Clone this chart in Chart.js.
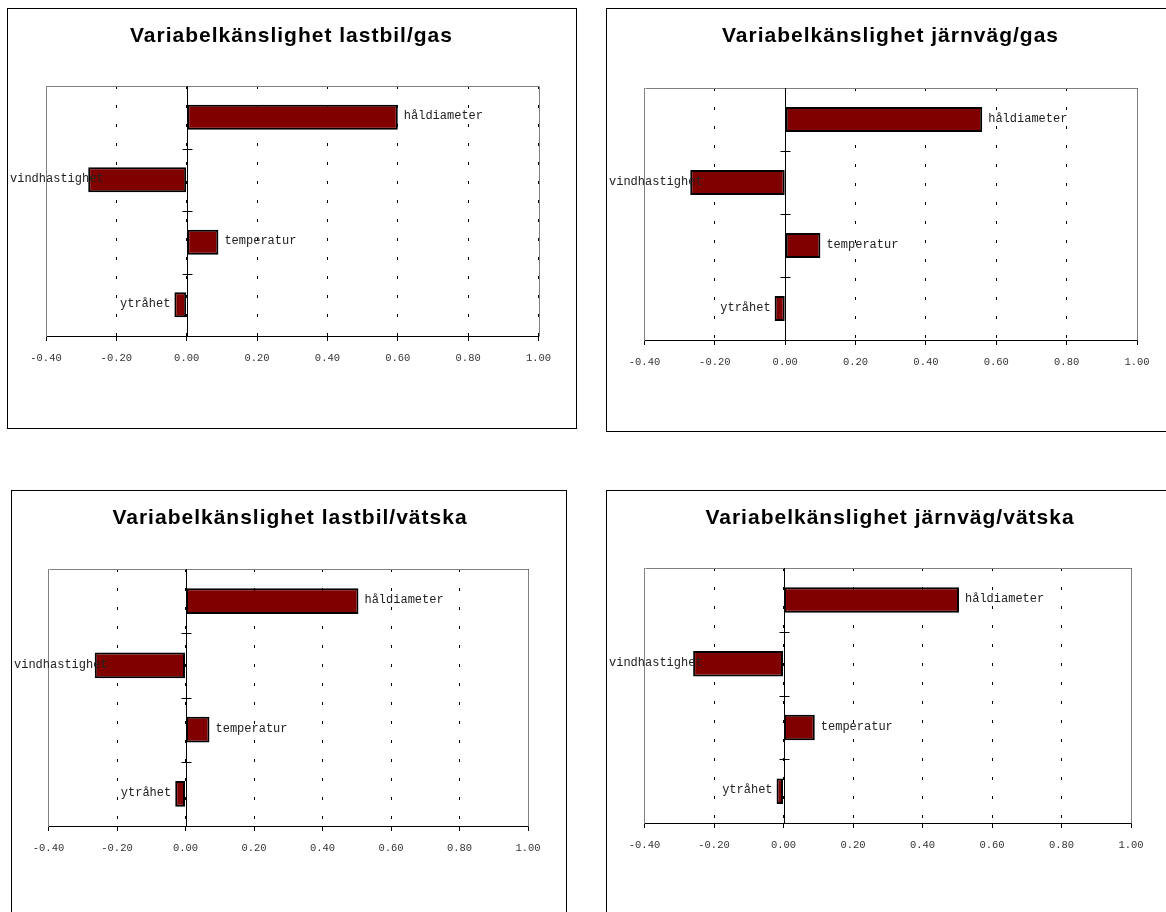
<!DOCTYPE html>
<html>
<head>
<meta charset="utf-8">
<script src="https://cdn.jsdelivr.net/npm/chart.js@4.4.0/dist/chart.umd.min.js"></script>
<style>
  html, body { margin: 0; padding: 0; background: #fff; }
  body { width: 1166px; height: 912px; overflow: hidden; position: relative; }
  .frame { position: absolute; box-sizing: border-box; border: 1px solid #000; background: #fff; }
  .frame canvas { display: block; }
</style>
</head>
<body>
<div class="frame" id="f1"><canvas id="c1"></canvas></div>
<div class="frame" id="f2"><canvas id="c2"></canvas></div>
<div class="frame" id="f3"><canvas id="c3"></canvas></div>
<div class="frame" id="f4"><canvas id="c4"></canvas></div>
<script>
const categories = ['håldiameter', 'vindhastighet', 'temperatur', 'ytråhet'];
const lastbilGas = [0.60, -0.28, 0.09, -0.035];
const jarnvagGas = [0.56, -0.27, 0.10, -0.03];
const lastbilVatska = [0.505, -0.265, 0.07, -0.03];
const jarnvagVatska = [0.505, -0.26, 0.09, -0.02];
const tickValues = [-0.4, -0.2, 0, 0.2, 0.4, 0.6, 0.8, 1.0];

// page pixels: frame [left, top, width, height], plot [left, top, right, bottom], title centre [x, y]
const panels = [
    { id: 'c1', frameId: 'f1', title: 'Variabelkänslighet lastbil/gas', values: lastbilGas,
      frame: [7, 8, 570, 421], plot: [46, 86, 538.5, 336], titleAt: [291.5, 35] },
    { id: 'c2', frameId: 'f2', title: 'Variabelkänslighet järnväg/gas', values: jarnvagGas,
      frame: [606, 8, 570, 424], plot: [644.5, 88, 1137, 340], titleAt: [890.5, 35] },
    { id: 'c3', frameId: 'f3', title: 'Variabelkänslighet lastbil/vätska', values: lastbilVatska,
      frame: [11, 490, 556, 440], plot: [48.5, 569, 528, 826], titleAt: [290, 517] },
    { id: 'c4', frameId: 'f4', title: 'Variabelkänslighet järnväg/vätska', values: jarnvagVatska,
      frame: [606, 490, 568, 440], plot: [644.5, 568, 1131, 823], titleAt: [890, 517] }
];

const AXIS_H = 40;
const crisp = v => Math.round(v) + 0.5;

// plot border, zero line with category ticks, bar labels and the title
const decorPlugin = {
    id: 'decor',
    beforeDatasetsDraw(chart) {
        const { ctx, chartArea: a } = chart;
        ctx.save();
        ctx.strokeStyle = '#808080';
        ctx.lineWidth = 1;
        ctx.beginPath();
        ctx.moveTo(crisp(a.left), crisp(a.top));
        ctx.lineTo(crisp(a.right), crisp(a.top));
        ctx.lineTo(crisp(a.right), crisp(a.bottom));
        ctx.stroke();
        ctx.restore();
    },
    afterDatasetsDraw(chart) {
        const { ctx, chartArea: a, scales: { x, y } } = chart;
        const x0 = crisp(x.getPixelForValue(0));
        ctx.save();
        ctx.strokeStyle = '#000';
        ctx.lineWidth = 1;
        ctx.beginPath();
        ctx.moveTo(x0, a.top);
        ctx.lineTo(x0, a.bottom);
        for (let i = 0; i < categories.length - 1; i++) {
            const yb = crisp((y.getPixelForValue(i) + y.getPixelForValue(i + 1)) / 2);
            ctx.moveTo(x0 - 5, yb);
            ctx.lineTo(x0 + 5, yb);
        }
        ctx.stroke();

        // category names at the outer end of each bar
        ctx.font = '12px "Liberation Mono", "Courier New", monospace';
        ctx.fillStyle = '#222';
        ctx.textBaseline = 'middle';
        ctx.textAlign = 'left';
        const meta = chart.getDatasetMeta(0);
        meta.data.forEach((bar, i) => {
            const v = chart.data.datasets[0].data[i];
            const text = chart.data.labels[i];
            if (v >= 0) {
                ctx.fillText(text, bar.x + 6, bar.y - 1);
            } else {
                const w = ctx.measureText(text).width;
                let left = bar.x - 4 - w;
                if (left < 2) left = 2;
                ctx.fillText(text, left, bar.y - 1);
            }
        });
        ctx.restore();
    },
    afterDraw(chart, args, opts) {
        const ctx = chart.ctx;
        ctx.save();
        ctx.font = 'bold 21px "Liberation Sans", Arial, sans-serif';
        ctx.letterSpacing = '1px';
        ctx.fillStyle = '#000';
        ctx.textAlign = 'center';
        ctx.textBaseline = 'middle';
        ctx.fillText(opts.text, opts.x, opts.y);
        ctx.restore();
    }
};

function buildPanel(p) {
    const [fl, ft, fw, fh] = p.frame;
    const [pl, pt, pr, pb] = p.plot;
    const div = document.getElementById(p.frameId);
    div.style.left = fl + 'px';
    div.style.top = ft + 'px';
    div.style.width = fw + 'px';
    div.style.height = fh + 'px';

    const canvas = document.getElementById(p.id);
    const cw = fw - 2, ch = fh - 2;
    canvas.width = cw;
    canvas.height = ch;
    canvas.style.width = cw + 'px';
    canvas.style.height = ch + 'px';
    const ox = fl + 1, oy = ft + 1;

    return new Chart(canvas, {
        type: 'bar',
        data: {
            labels: categories,
            datasets: [{
                data: p.values,
                backgroundColor: '#800000',
                borderColor: '#000',
                borderWidth: 2,
                borderSkipped: false,
                barPercentage: 0.4,
                categoryPercentage: 1.0
            }]
        },
        options: {
            indexAxis: 'y',
            responsive: false,
            animation: false,
            devicePixelRatio: 1,
            layout: {
                padding: {
                    left: pl - ox,
                    top: pt - oy,
                    right: (ox + cw) - pr,
                    bottom: (oy + ch) - pb - AXIS_H
                }
            },
            plugins: {
                legend: { display: false },
                title: { display: false },
                tooltip: { enabled: false },
                decor: { text: p.title, x: p.titleAt[0] - ox, y: p.titleAt[1] - oy + 1 }
            },
            scales: {
                x: {
                    type: 'linear',
                    min: tickValues[0],
                    max: tickValues[tickValues.length - 1],
                    afterBuildTicks: scale => {
                        scale.ticks = tickValues.map(v => ({ value: v }));
                    },
                    afterFit: scale => { scale.height = AXIS_H; },
                    grid: {
                        color: '#000',
                        lineWidth: 1,
                        tickLength: 5,
                        tickColor: '#000'
                    },
                    border: { color: '#000', width: 1, dash: [3, 16] },
                    ticks: {
                        autoSkip: false,
                        maxRotation: 0,
                        padding: 11,
                        color: '#333',
                        font: { family: '"Liberation Mono", "Courier New", monospace', size: 10.5 },
                        callback: v => v.toFixed(2)
                    }
                },
                y: {
                    afterFit: scale => { scale.width = 0; },
                    grid: { display: false },
                    border: { color: '#808080', width: 1 },
                    ticks: { display: false }
                }
            }
        },
        plugins: [decorPlugin]
    });
}

panels.forEach(buildPanel);
</script>
</body>
</html>
